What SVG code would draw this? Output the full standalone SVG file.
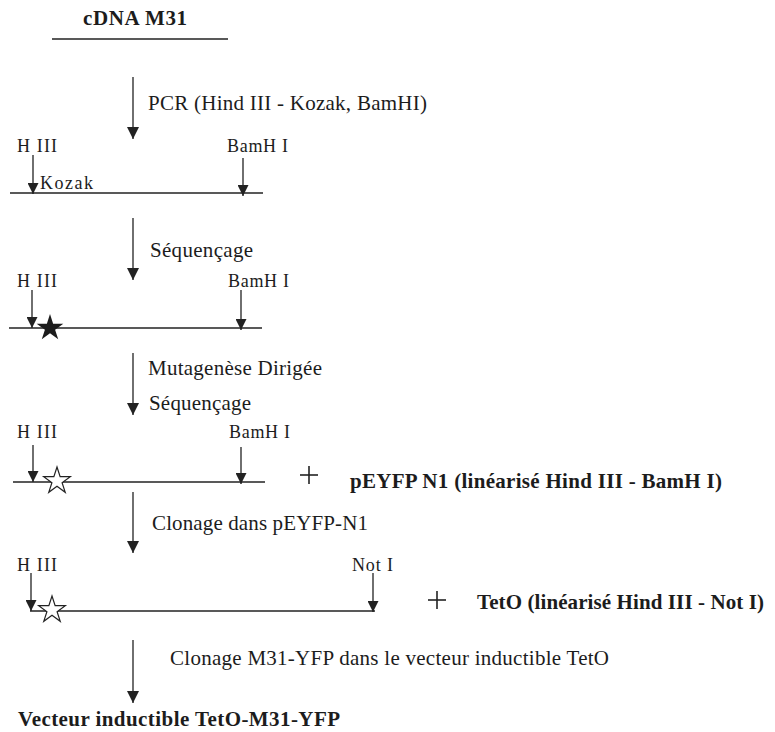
<svg xmlns="http://www.w3.org/2000/svg" xmlns:xlink="http://www.w3.org/1999/xlink" width="775" height="732" viewBox="0 0 775 732">
<style>
text{font-family:"Liberation Serif","Times New Roman",serif;fill:#1c1c1c}
.t{font-size:21px}
.b{font-size:21px;font-weight:bold}
.s{font-size:18px}
.k{font-size:18px}
.ln{stroke:#222;stroke-width:1.4;fill:none}
.ar{stroke:#222;stroke-width:1.3;fill:none;marker-end:url(#ah)}
.sar{stroke:#222;stroke-width:1.3;fill:none;marker-end:url(#sh)}
.plus{stroke:#222;stroke-width:1.6}
</style>
<defs>
<marker id="ah" markerUnits="userSpaceOnUse" markerWidth="12" markerHeight="12" viewBox="0 0 12 12" refX="12" refY="6" orient="auto"><path d="M0,0 L12,6 L0,12 z" fill="#222"/></marker>
<marker id="sh" markerUnits="userSpaceOnUse" markerWidth="11" markerHeight="11" viewBox="0 0 11 11" refX="11" refY="5.5" orient="auto"><path d="M0,0 L11,5.5 L0,11 z" fill="#222"/></marker>
<path id="star" d="M0,-14 L3.14,-4.33 L13.31,-4.33 L5.09,1.65 L8.23,11.33 L0,5.35 L-8.23,11.33 L-5.09,1.65 L-13.31,-4.33 L-3.14,-4.33 Z"/>
</defs>
<rect width="775" height="732" fill="#fff"/>

<g id="title">
<text class="b" x="83" y="25" textLength="104">cDNA M31</text>
<line class="ln" x1="52" y1="39" x2="228" y2="39"/>
</g>

<g id="connectors">
<line class="ar" x1="133" y1="77" x2="133" y2="139"/>
<line class="ar" x1="133" y1="218" x2="133" y2="280"/>
<line class="ar" x1="133" y1="353" x2="133" y2="415"/>
<line class="ar" x1="133" y1="492" x2="133" y2="553"/>
<line class="ar" x1="133" y1="640" x2="133" y2="703"/>
</g>

<g id="step-labels">
<text class="t" x="148" y="110" textLength="279">PCR (Hind III - Kozak, BamHI)</text>
<text class="t" x="150" y="257" textLength="103">Séquençage</text>
<text class="t" x="148" y="375" textLength="174">Mutagenèse Dirigée</text>
<text class="t" x="149" y="410" textLength="102">Séquençage</text>
<text class="t" x="152" y="530" textLength="216">Clonage dans pEYFP-N1</text>
<text class="t" x="170" y="665" textLength="439">Clonage M31-YFP dans le vecteur inductible TetO</text>
</g>

<g id="fragment-pcr">
<text class="s" x="17" y="152" textLength="40">H III</text>
<text class="s" x="227" y="152" textLength="61">BamH I</text>
<line class="ln" x1="10" y1="193" x2="263" y2="193"/>
<line class="sar" x1="33" y1="155" x2="33" y2="194"/>
<line class="sar" x1="243" y1="158" x2="243" y2="196"/>
<text class="k" x="40" y="189" textLength="53">Kozak</text>
</g>

<g id="fragment-seq">
<text class="s" x="17" y="287" textLength="40">H III</text>
<text class="s" x="228" y="287" textLength="61">BamH I</text>
<line class="ln" x1="9" y1="328" x2="262" y2="328"/>
<line class="sar" x1="32" y1="290" x2="32" y2="328"/>
<line class="sar" x1="241" y1="290" x2="241" y2="330"/>
<use xlink:href="#star" href="#star" transform="translate(50,328)" fill="#1c1c1c"/>
</g>

<g id="fragment-mut">
<text class="s" x="17" y="438" textLength="40">H III</text>
<text class="s" x="229" y="438" textLength="61">BamH I</text>
<line class="ln" x1="13" y1="482" x2="265" y2="482"/>
<line class="sar" x1="33" y1="445" x2="33" y2="482"/>
<line class="sar" x1="241" y1="447" x2="241" y2="484"/>
<use xlink:href="#star" href="#star" transform="translate(57,481)" fill="#fff" stroke="#222" stroke-width="1.2"/>
</g>

<g id="plus-peyfp">
<line class="plus" x1="300" y1="475" x2="318" y2="475"/>
<line class="plus" x1="309" y1="466" x2="309" y2="484"/>
<text class="b" x="350" y="488" textLength="372">pEYFP N1 (linéarisé Hind III - BamH I)</text>
</g>

<g id="fragment-clone">
<text class="s" x="17" y="571" textLength="40">H III</text>
<text class="s" x="352" y="571" textLength="41">Not I</text>
<line class="ln" x1="30" y1="611" x2="375" y2="611"/>
<line class="sar" x1="31" y1="573" x2="31" y2="611"/>
<line class="sar" x1="373" y1="573" x2="373" y2="612"/>
<use xlink:href="#star" href="#star" transform="translate(52,610)" fill="#fff" stroke="#222" stroke-width="1.2"/>
</g>

<g id="plus-teto">
<line class="plus" x1="428" y1="600" x2="446" y2="600"/>
<line class="plus" x1="437" y1="591" x2="437" y2="609"/>
<text class="b" x="477" y="609" textLength="287">TetO (linéarisé Hind III - Not I)</text>
</g>

<g id="result">
<text class="b" x="18" y="726" textLength="322">Vecteur inductible TetO-M31-YFP</text>
</g>
</svg>
